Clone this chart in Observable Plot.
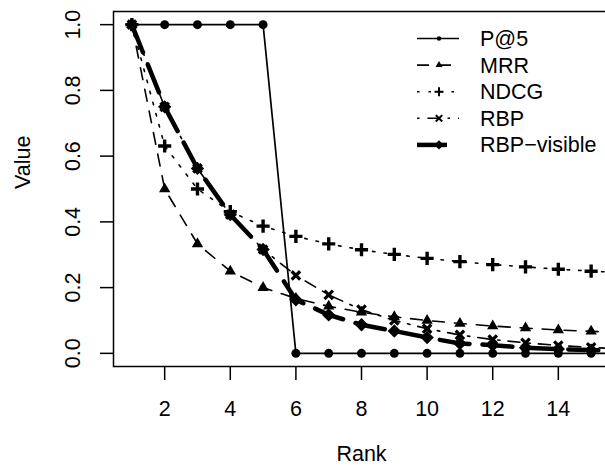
<!DOCTYPE html>
<html><head><meta charset="utf-8">
<script src="https://cdn.jsdelivr.net/npm/d3@7"></script>
<script src="https://cdn.jsdelivr.net/npm/@observablehq/plot@0.6"></script>
<style>html,body{margin:0;padding:0;background:#fff;overflow:hidden;}</style>
</head><body><div id="chart"></div>
<script>
// ---- data ----
const ranks = [1,2,3,4,5,6,7,8,9,10,11,12,13,14,15,16];
const p5    = [1,1,1,1,1,0,0,0,0,0,0,0,0,0,0,0];
const mrr   = [1,0.5,0.333,0.25,0.2,0.167,0.143,0.125,0.111,0.1,0.091,0.083,0.077,0.071,0.067,0.0625];
const ndcg  = [1,0.631,0.5,0.431,0.387,0.356,0.333,0.315,0.301,0.289,0.279,0.27,0.263,0.256,0.25,0.245];
const rbp   = [1,0.75,0.5625,0.422,0.316,0.237,0.178,0.133,0.1,0.075,0.056,0.042,0.032,0.024,0.018,0.013];
const rbpVisible = [1,0.75,0.5625,0.422,0.316,0.163,0.117,0.087,0.068,0.048,0.03,0.025,0.017,0.013,0.01,0.008];
const seriesNames = ["P@5","MRR","NDCG","RBP","RBP\u2212visible"];
const seriesValues = [p5, mrr, ndcg, rbp, rbpVisible];
const xTicks = [2,4,6,8,10,12,14];
const yTicks = [0,0.2,0.4,0.6,0.8,1.0];

// ---- styles (R-like line types and pch symbols) ----
const styles = [
  {dash: null,          lw: 1.7, symbol: "circle",   r: 4.5, filled: true,  sw: 0,   lr: 2.2},
  {dash: "12,10",       lw: 1.6, symbol: "triangle", r: 4.2, filled: true,  sw: 0,   lr: 2.6},
  {dash: "2.5,9",       lw: 1.6, symbol: "plus",     r: 4.3, filled: false, sw: 3.4, lr: 3},
  {dash: "2.5,8,12,8",  lw: 1.6, symbol: "times",    r: 3.9, filled: false, sw: 3.2, lr: 3},
  {dash: "30,13",       lw: 4.5, symbol: "diamond2", r: 6,   filled: true,  sw: 0,   lr: 4.2}
];

const rows = [];
seriesNames.forEach((name, s) => {
  ranks.forEach((rank, i) => rows.push({series: name, s, rank, value: seriesValues[s][i]}));
});

const font = "'Liberation Sans', Arial, Helvetica, sans-serif";
const fs = 21.5;
const marks = [];
seriesNames.forEach((name, s) => {
  const st = styles[s];
  const data = rows.filter(d => d.s === s);
  marks.push(Plot.line(data, {x: "rank", y: "value", stroke: "black", strokeWidth: st.lw,
    strokeDasharray: st.dash, clip: true}));
  marks.push(Plot.dot(data, st.filled
    ? {x: "rank", y: "value", symbol: () => st.symbol, r: st.r, fill: "black", stroke: "none", clip: true}
    : {x: "rank", y: "value", symbol: () => st.symbol, r: st.r, fill: "none", stroke: "black", strokeWidth: st.sw, clip: true}));
});

const plot = Plot.plot({
  width: 609, height: 468,
  marginLeft: 113, marginRight: 0, marginTop: 11, marginBottom: 102,
  style: {fontFamily: font, background: "white", maxWidth: "none"},
  x: {domain: [0.44, 15.56]},
  y: {domain: [-0.04, 1.04]},
  symbol: {type: "identity"},
  marks: [
    ...marks,
    Plot.frame({stroke: "black", strokeWidth: 1.5}),
    Plot.axisX(xTicks, {tickSize: 14, tickPadding: 20, fontSize: fs, label: null, strokeWidth: 1.5, fill: "black"}),
    Plot.axisY(yTicks, {tickSize: 13, tickFormat: () => "", label: null, strokeWidth: 1.5}),
    Plot.text(yTicks, {y: d => d, text: d => d.toFixed(1), frameAnchor: "left", dx: -40, rotate: -90,
      fontSize: fs, textAnchor: "middle", lineAnchor: "middle", fill: "black"}),
    Plot.text(["Value"], {text: d => d, frameAnchor: "left", dx: -90, rotate: -90, fontSize: fs, fill: "black"}),
    Plot.text(["Rank"], {text: d => d, frameAnchor: "bottom", dy: 94, fontSize: fs, fill: "black"})
  ]
});
plot.style.maxWidth = "none";
plot.style.height = "468px";

// ---- legend (inside the plot, R legend with bty="n") ----
const svg = d3.select(plot);
const lg = svg.append("g").attr("font-family", font).attr("font-size", fs).attr("text-anchor", "start");
const symMap = {circle: d3.symbolCircle, triangle: d3.symbolTriangle, plus: d3.symbolPlus, times: d3.symbolTimes, diamond2: d3.symbolDiamond2};
seriesNames.forEach((name, s) => {
  const st = styles[s];
  const y = 38.5 + s * 26.6;
  lg.append("line").attr("x1", 417).attr("x2", 459).attr("y1", y).attr("y2", y)
    .attr("stroke", "black").attr("stroke-width", st.lw)
    .attr("stroke-dasharray", st.dash || null);
  lg.append("path").attr("transform", `translate(439,${y})`)
    .attr("d", d3.symbol(symMap[st.symbol], Math.PI * st.lr * st.lr)())
    .attr("fill", st.filled ? "black" : "none")
    .attr("stroke", st.filled ? "none" : "black")
    .attr("stroke-width", st.filled ? 0 : 2);
  lg.append("text").attr("x", 480).attr("y", y).attr("dy", "0.35em")
    .attr("text-anchor", "start").attr("fill", "black").text(name);
});

document.getElementById("chart").appendChild(plot);
</script>
</body></html>
